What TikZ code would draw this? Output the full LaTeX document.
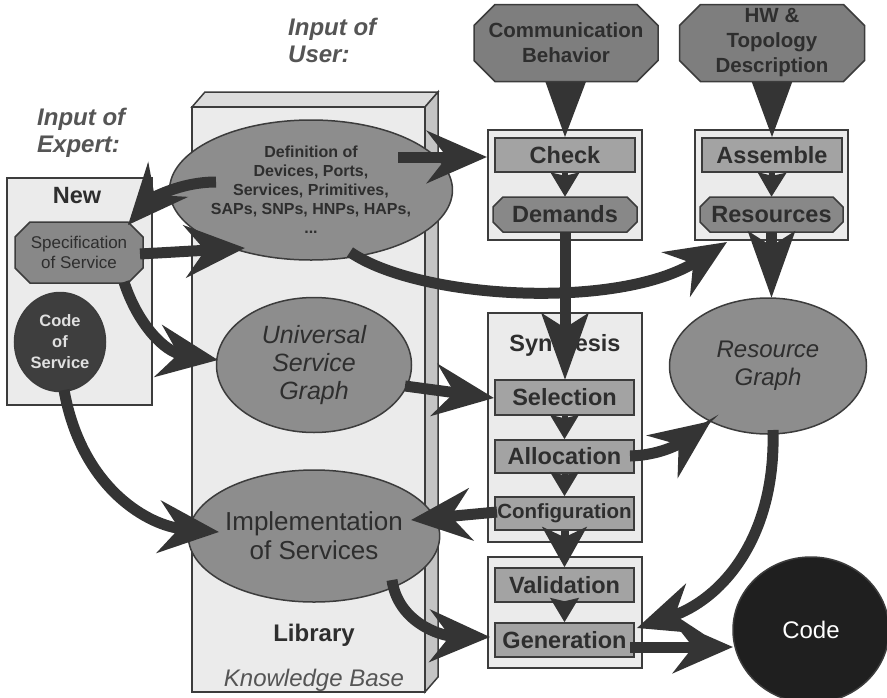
\documentclass[tikz,border=0pt]{standalone}
\usepackage{fontspec}
\setmainfont{Liberation Sans}
\usetikzlibrary{arrows.meta,shapes.geometric}
\definecolor{textc}{HTML}{2E2E2E}
\definecolor{labc}{HTML}{555555}
\definecolor{linec}{HTML}{3C3C3C}
\definecolor{boxfill}{HTML}{EBEBEB}
\definecolor{rectfill}{HTML}{A3A3A3}
\definecolor{octfill}{HTML}{888888}
\definecolor{topfill}{HTML}{7E7E7E}
\definecolor{ellfill}{HTML}{8D8D8D}
\definecolor{arrc}{HTML}{343434}
\definecolor{libtop}{HTML}{DCDCDC}
\definecolor{libside}{HTML}{C4C4C4}
\newcommand\fsz[2]{\fontsize{#1}{#2}\selectfont}
% chamfered polygon: style, cx, cy, w, h, chamfer
\newcommand\octshape[6]{%
  \pgfmathsetmacro\oxl{#2-#4/2}\pgfmathsetmacro\oxr{#2+#4/2}%
  \pgfmathsetmacro\oyt{#3-#5/2}\pgfmathsetmacro\oyb{#3+#5/2}%
  \filldraw[#1] (\oxl+#6,\oyt) -- (\oxr-#6,\oyt) -- (\oxr,\oyt+#6) -- (\oxr,\oyb-#6)
    -- (\oxr-#6,\oyb) -- (\oxl+#6,\oyb) -- (\oxl,\oyb-#6) -- (\oxl,\oyt+#6) -- cycle;}
\pgfdeclarelayer{front}
\pgfsetlayers{main,front}
\begin{document}
\begin{tikzpicture}[x=1pt,y=-1pt,
  frame/.style={draw=linec, line width=1.5pt, fill=boxfill, inner sep=0pt},
  octline/.style={draw=linec, line width=1.5pt},
  txtbox/.style={inner sep=0pt, align=center, text=textc},
  stepbox/.style={draw=linec, line width=1.5pt, fill=rectfill, inner sep=0pt,
    minimum width=139pt, minimum height=34pt, font=\fsz{23.5}{28}\bfseries, text=textc},
  resbox/.style={txtbox, minimum width=143pt, minimum height=35pt, font=\fsz{23.5}{28}\bfseries},
  inbox/.style={txtbox, minimum width=184pt, minimum height=77pt, font=\fsz{20.5}{25}\bfseries},
  ell/.style={ellipse, draw=linec, line width=1.5pt, fill=ellfill, inner sep=0pt, align=center, text=textc},
  lab/.style={font=\fsz{24}{27}\bfseries\itshape, text=labc, align=left, inner sep=0pt, anchor=north west},
  big/.style={draw=arrc, line width=11pt, -{Stealth[length=60pt,width=52pt,inset=20pt]}},
  tall/.style={draw=arrc, line width=11pt, -{Stealth[length=66pt,width=46pt,inset=14pt]}},
  wedge/.style={draw=arrc, line width=8pt, -{Stealth[length=64pt,width=46pt,inset=10pt]}},
  small/.style={draw=arrc, line width=6pt, -{Stealth[length=24pt,width=28pt,inset=3pt]}},
  mid/.style={draw=arrc, line width=8pt, -{Stealth[length=40pt,width=44pt,inset=10pt]}}
]
\useasboundingbox (0,0) rectangle (887,697);

% labels
\node[lab] (lexp) at (37,108) {Input of\\Expert:};
\node[lab] (luser) at (288,18) {Input of\\User:};

% Library 3D box
\filldraw[fill=libtop, draw=linec, line width=1.5pt] (192,107) -- (205,92) -- (438,92) -- (425,107) -- cycle;
\filldraw[fill=libside, draw=linec, line width=1.5pt] (425,107) -- (438,92) -- (438,677) -- (425,692) -- cycle;
\node[frame, minimum width=233pt, minimum height=585pt] (lib) at (308.5,399.5) {};
\node[font=\fsz{24}{28}\bfseries, text=textc] (libl) at (314,635) {Library};
\node[font=\fsz{24}{28}\itshape, text=labc] (kb) at (314,680) {Knowledge Base};

% New box
\node[frame, minimum width=145pt, minimum height=227pt] (newbox) at (79.5,291.5) {};
\node[font=\fsz{23.5}{28}\bfseries, text=textc] (newl) at (77,196) {New};
\octshape{octline, fill=octfill}{79}{252.5}{128}{61}{15}
\node[txtbox, minimum width=128pt, minimum height=61pt, font=\fsz{17}{20}] (spec) at (79,252.5) {Specification\\of Service};
\node[ellipse, draw=linec, line width=1.5pt, fill=arrc!95!white, inner sep=0pt, minimum width=91pt, minimum height=99pt,
  align=center, font=\fsz{16.5}{21}\bfseries, text=white!88!black] (codes) at (60,342) {Code\\of\\Service};

% ellipses in library
\node[ell, minimum width=196pt, minimum height=140pt, font=\fsz{16}{19}\bfseries] (defn) at (311,190)
  {Definition of\\Devices, Ports,\\Services, Primitives,\\SAPs, SNPs, HNPs, HAPs,\\...};
\node[ell, minimum width=195pt, minimum height=135pt, font=\fsz{25}{28}\itshape] (usg) at (314,365)
  {Universal\\Service\\Graph};
\node[ell, minimum width=195pt, minimum height=132pt, font=\fsz{26}{29}] (impl) at (314,536)
  {Implementation\\of Services};

% top inputs (front layer, covering the roots of their arrows)
\begin{pgfonlayer}{front}
\octshape{octline, fill=topfill}{566}{43}{184}{77}{21}
\node[inbox] (comm) at (566,43) {Communication\\Behavior};
\octshape{octline, fill=topfill}{772}{43}{185}{77}{21}
\node[inbox] (hw) at (772,43) {HW \&\\Topology\\Description};
\end{pgfonlayer}

% check / assemble groups
\node[frame, minimum width=154pt, minimum height=110pt] (checkg) at (565,185) {};
\node[stepbox, minimum width=140pt] (check) at (565,155) {Check};
\octshape{octline, fill=octfill}{565}{214.5}{144}{35}{10}
\node[resbox] (demands) at (565,214.5) {Demands};
\node[frame, minimum width=153pt, minimum height=110pt] (assg) at (771.5,185) {};
\node[stepbox, minimum width=140pt] (assemble) at (772,155) {Assemble};
\octshape{octline, fill=octfill}{771.5}{214.5}{143}{35}{10}
\node[resbox] (resources) at (771.5,214.5) {Resources};

% synthesis
\node[frame, minimum width=154pt, minimum height=229pt] (syn) at (565,427.5) {};
\node[font=\fsz{23.5}{28}\bfseries, text=textc] (synl) at (565,345) {Synthesis};
\node[stepbox, minimum height=35pt] (sel) at (564.5,397.5) {Selection};
\node[stepbox, minimum height=33pt] (alloc) at (564.5,456.5) {Allocation};
\node[stepbox, minimum height=33pt, font=\fsz{20.5}{24}\bfseries] (conf) at (564.5,513.5) {Configuration};
\node[frame, minimum width=154pt, minimum height=111pt] (geng) at (565,612.5) {};
\node[stepbox] (valid) at (564.5,585) {Validation};
\node[stepbox] (gen) at (564.5,640) {Generation};

% right ellipses
\node[ell, minimum width=197pt, minimum height=136pt, font=\fsz{24}{28}\itshape] (resg) at (768,366) {Resource\\Graph};
\node[ellipse, draw=linec, line width=1.5pt, fill=black!88, inner sep=0pt, minimum width=156pt, minimum height=146pt,
  font=\fsz{24}{28}, text=white] (code) at (811,630) {Code};

% arrows
\coordinate (a1s) at (398,157); \coordinate (a1e) at (487,157);
\draw[big] (a1s) -- (a1e);
\coordinate (a2s) at (216,182); \coordinate (a2e) at (128,225);
\draw[big] (a2s) .. controls (178,182) and (150,200) .. (a2e);
\coordinate (a3s) at (140,254); \coordinate (a3e) at (245,248);
\draw[big] (a3s) -- (a3e);
\coordinate (a4s) at (124,282); \coordinate (a4e) at (218,360);
\draw[big] (a4s) .. controls (138,325) and (165,352) .. (a4e);
\coordinate (a5s) at (64,390); \coordinate (a5e) at (219,532);
\draw[big] (a5s) .. controls (82,490) and (150,526) .. (a5e);
\coordinate (a6s) at (350,252); \coordinate (a6e) at (727,242);
\draw[big] (a6s) .. controls (420,300) and (620,310) .. (a6e);
\coordinate (a7s) at (405,386); \coordinate (a7e) at (494,398);
\draw[big] (a7s) -- (a7e);
\coordinate (a8s) at (630,456); \coordinate (a8e) at (711,421);
\draw[big] (a8s) .. controls (665,455) and (685,440) .. (a8e);
\coordinate (a9s) at (497,512); \coordinate (a9e) at (411,520);
\draw[big] (a9s) -- (a9e);
\coordinate (a10s) at (392,580); \coordinate (a10e) at (490,637);
\draw[big] (a10s) .. controls (398,622) and (440,636) .. (a10e);
\coordinate (a11s) at (773,430); \coordinate (a11e) at (637,628);
\draw[big] (a11s) .. controls (776,540) and (720,600) .. (a11e);
\coordinate (a12s) at (630,647); \coordinate (a12e) at (733,647);
\draw[big] (a12s) -- (a12e);
\draw[tall] (demands.south) -- (565,380);
\draw[tall] (resources.south) -- (771.5,298);
\draw[wedge] (comm.center) -- (check.north);
\draw[wedge] (hw.center) -- (assemble.north);
\draw[small] (check.south) -- (demands.north);
\draw[small] (assemble.south) -- (resources.north);
\draw[small] (sel.south) -- (alloc.north);
\draw[small] (alloc.south) -- (conf.north);
\draw[mid] (conf.south) -- (valid.north);
\draw[small] (valid.south) -- (gen.north);
\end{tikzpicture}
\end{document}
